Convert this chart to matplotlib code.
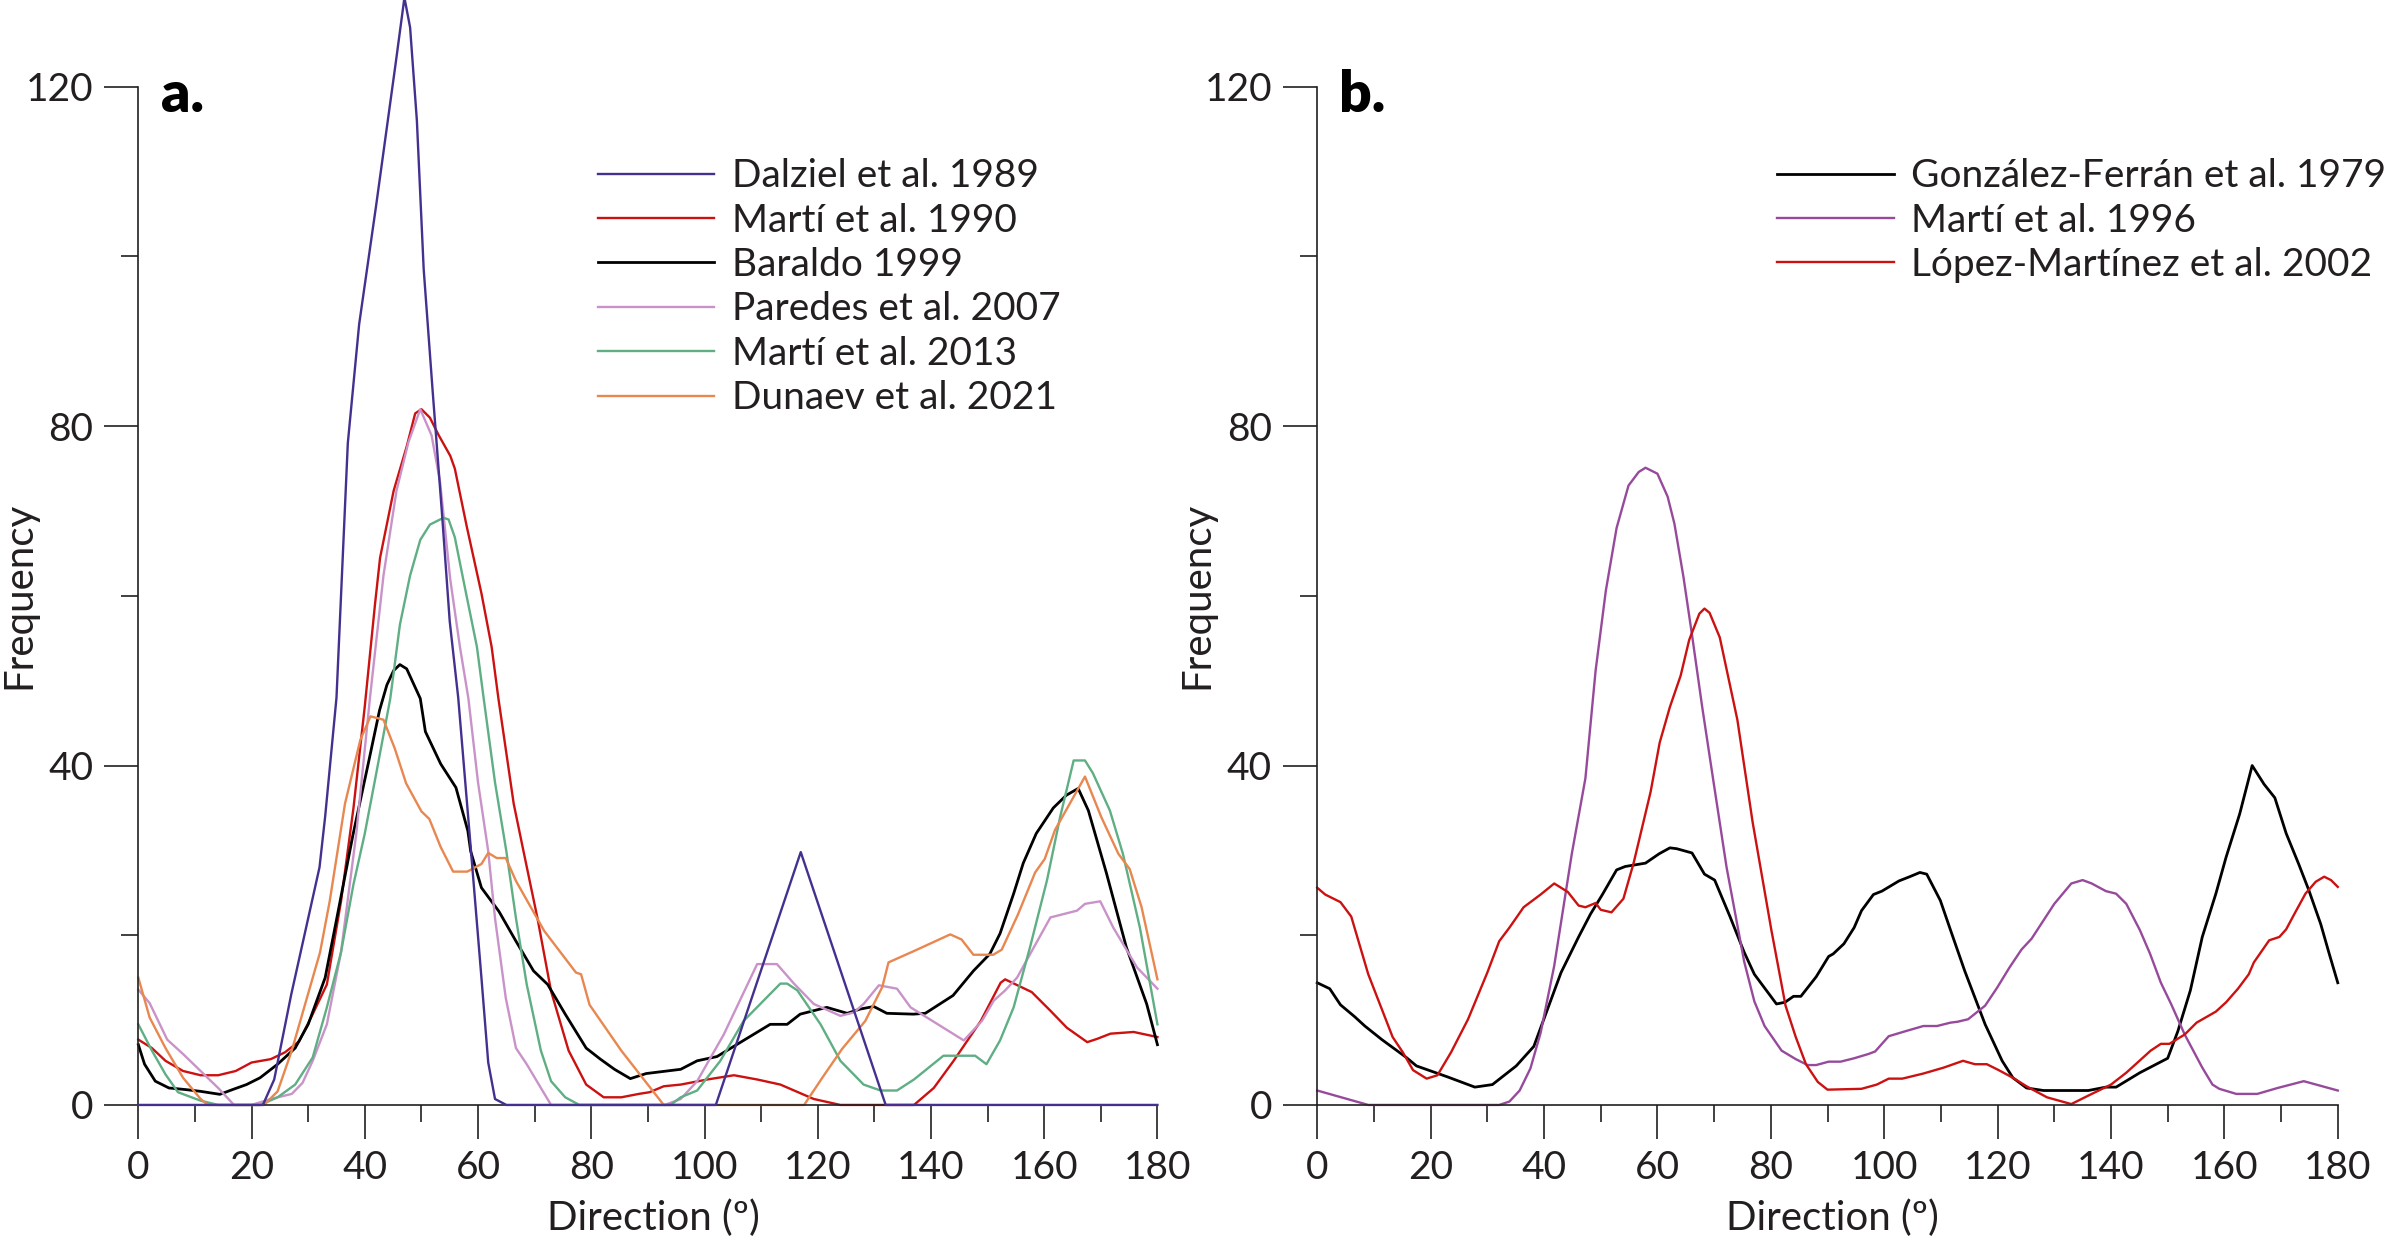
import matplotlib
matplotlib.use("Agg")
import matplotlib.pyplot as plt
from matplotlib.ticker import MultipleLocator

plt.rcParams['font.family'] = ['Lato', 'DejaVu Sans']

# ---- panel a data (direction in degrees, frequency) ----
dalziel_x = [0, 22, 24, 27, 30, 32, 33, 35, 37, 39, 42, 45.5, 47, 48, 49.2, 50.4, 52, 53.6, 55, 56.5,
             58.5, 60.6, 61.8, 63, 65, 102, 117, 132, 180]
dalziel_y = [0, 0, 3, 13, 22, 28, 34, 48, 78, 92, 106, 123, 130.5, 127, 116, 98.5, 84, 70, 57, 48,
             32, 15, 5, 0.7, 0, 0, 29.8, 0, 0]

marti90_x = [0, 2.4, 4.8, 7.9, 11, 14.1, 17.2, 20, 23.4, 25.9, 28.4, 30.8, 33.3, 35.8, 38, 40, 41.8,
             42.7, 45.1, 47.4, 48.9, 50, 51.5, 53, 55.1, 55.9, 58, 60.6, 62.4, 63.6, 66.3, 68, 70.5,
             72.9, 76, 79.1, 82.2, 85.3, 88.4, 90.3, 92.8, 95.8, 100.5, 105.2, 109.3, 113.4, 119.3,
             124, 137, 140.5, 144, 148.8, 152.3, 153.1, 157.8, 161.1, 164, 167.6, 169.4, 171.7,
             175.8, 180]
marti90_y = [7.7, 6.7, 5.2, 4.0, 3.5, 3.5, 4.0, 5.0, 5.4, 6.2, 7.5, 10.7, 14.2, 24, 35, 47, 59,
             64.5, 72.4, 77.6, 81.5, 82, 81, 79, 76.5, 75, 68.2, 60.3, 54, 47.9, 35.5, 30, 22,
             13.4, 6.4, 2.4, 0.9, 0.9, 1.3, 1.5, 2.2, 2.4, 3.0, 3.5, 3.0, 2.4, 0.7,
             0, 0, 2.0, 5.2, 9.9, 14.4, 14.8, 13.3, 11.1, 9.1, 7.4, 7.8, 8.4,
             8.6, 8.0]

baraldo_x = [0, 1.1, 3, 5.4, 8.5, 11, 14.4, 16.6, 19.1, 21.5, 24.6, 27.7, 30, 33, 35.2, 37.9, 40.6,
             42.6, 43.9, 45.1, 46.2, 47.4, 49.8, 50.7, 53.4, 56.1, 58.2, 58.7, 60.6, 63.7, 66.7,
             69.8, 72.3, 75.4, 79.1, 81.6, 84.1, 86.9, 89.7, 95.8, 98.7, 102.2, 106.4, 111.6, 114.6,
             116.9, 121.6, 125.2, 127.5, 129.9, 132.2, 136.9, 139, 143.9, 147.5, 150.4, 152.2, 154.6,
             156.3, 158.6, 161.6, 163.9, 166, 167.8, 171, 174.5, 178.1, 180]
baraldo_y = [7.1, 4.8, 2.8, 2.0, 1.8, 1.6, 1.25, 1.8, 2.4, 3.2, 4.8, 6.7, 9.5, 15, 22.5, 31.8, 40.2,
             46.5, 49.5, 51.2, 51.9, 51.4, 47.9, 44, 40.2, 37.4, 32.3, 29.9, 25.6, 22.8, 19.3,
             15.8, 14.2, 10.7, 6.7, 5.4, 4.2, 3.1, 3.7, 4.2, 5.2, 5.7, 7.4, 9.5, 9.5,
             10.7, 11.5, 10.8, 11.3, 11.6, 10.8, 10.7, 10.8, 12.9, 15.8, 17.8, 20.2, 24.9,
             28.5, 32, 35, 36.5, 37.3, 34.7, 27.3, 18.6, 11.9, 7.1]

paredes_x = [0, 2, 5.1, 7.9, 11, 14.1, 16.9, 20, 23.4, 27.1, 29, 30.8, 33.3, 35.8, 38.5, 40.9, 43.3,
             45.6, 47.7, 49.8, 51.8, 53.3, 55.1, 56.8, 58.3, 60, 61.8, 63, 64.9, 66.7, 68.6, 71.1,
             72.9, 93, 95.8, 98.7, 103.4, 109.3, 112.8, 115.8, 119.3, 124, 126.4, 128.1, 130.8, 134,
             136.4, 145.8, 149, 151.1, 153.1, 155.2, 161.1, 165.8, 167.2, 169.9, 172.2, 176.4, 180]
paredes_y = [13.6, 12, 7.7, 6, 4, 2, 0, 0, 0.7, 1.3, 2.6, 5.2, 9.5, 18, 32, 47.9, 62.4,
             72.4, 78.1, 82, 78.9, 73.4, 61.9, 54, 47.9, 38, 29.9, 22, 12.6, 6.7, 4.8, 2,
             0, 0, 0.7, 2.8, 8.3, 16.6, 16.6, 14.3, 11.9, 10.5, 10.9, 11.9, 14.1, 13.7,
             11.5, 7.6, 9.9, 12.3, 13.5, 15, 22.1, 22.9, 23.7, 24, 20.9, 16.2, 13.7]

marti13_x = [0, 2.4, 4.8, 7, 11, 14.1, 21.5, 24.6, 27.7, 30.8, 33.3, 35.8, 38, 40, 42, 44.5, 46.2,
             48, 49.8, 51.5, 53.9, 54.8, 55.9, 57.4, 59.8, 61, 63, 65, 66.7, 68.6, 71.1, 72.9, 75.4,
             77.9, 94, 95.8, 98.7, 102.8, 106.9, 113.4, 114.6, 116.4, 120.5, 124, 128.1, 131.1, 134,
             137, 142.2, 147.8, 149.8, 152.2, 154.6, 157.5, 160.5, 162.8, 165.2, 167.2, 168.6,
             171.6, 173.9, 176.9, 180]
marti13_y = [9.5, 6.4, 3.6, 1.5, 0.5, 0, 0, 0.9, 2.4, 5.6, 11.5, 18, 26, 32, 39, 47.9, 56.6,
             62.4, 66.6, 68.4, 69.2, 69, 66.9, 61.9, 54, 47.9, 38, 29.9, 22, 14.2, 6.4, 2.8, 0.9,
             0, 0, 0.9, 1.7, 5.2, 9.9, 14.3, 14.3, 13.5, 9.5, 5.2, 2.4, 1.7, 1.7,
             3.0, 5.8, 5.8, 4.8, 7.6, 11.5, 18.6, 26.5, 33.9, 40.6, 40.6, 39.1,
             34.7, 29.6, 20.9, 9.5]

dunaev_x = [0, 2, 4.8, 7.9, 11, 12.3, 22.2, 24.6, 27.1, 29.6, 32.1, 33.8, 36.5, 39.2, 41, 43.3, 45.3,
            47.3, 50, 51.4, 53.4, 55.6, 58.1, 60.6, 61.8, 63.3, 64.9, 66.7, 71.7, 77.3, 78.2, 79.7,
            85.3, 92.8, 117.6, 120.8, 124.3, 128.4, 131.4, 132.5, 137.2, 143.4, 145.4, 147.5, 151,
            152.5, 155.4, 158.4, 160.1, 161.9, 167.2, 170.1, 173.1, 175.1, 177.2, 180]
dunaev_y = [15, 10.3, 6.7, 3.2, 0.7, 0, 0, 1.6, 6.4, 12.2, 18, 24, 35.5, 43, 45.8, 45.4, 42,
            37.9, 34.6, 33.7, 30.4, 27.5, 27.5, 28.4, 29.7, 29.1, 29.1, 26.4, 20.5, 15.6, 15.4, 11.8,
            6.4, 0, 0, 3.2, 6.6, 9.9, 13.9, 16.8, 18.2, 20.1, 19.5, 17.7, 17.7,
            18.3, 22.5, 27.4, 29, 32.4, 38.7, 33.9, 29.6, 27.8, 23.3, 14.8]

# ---- panel b data ----
gonzalez_x = [0, 2.2, 4.1, 6.6, 8.4, 11.4, 15.7, 17.5, 23, 27.8, 30.9, 35.1, 38.2, 43, 46.1, 48.2,
              50.3, 52.8, 54.3, 57.9, 60.3, 62.2, 63.4, 66.1, 68.3, 70.1, 72.8, 75.3, 77.1, 81, 82.5,
              84, 85.3, 88, 90.2, 91, 92.9, 94.7, 96, 98.1, 99.6, 102.6, 104.5, 106.3, 107.5, 109.9,
              111.7, 114.2, 117.8, 120.8, 122.7, 125.1, 128.1, 136, 139.1, 140.9, 145.1, 150, 151.8,
              154, 156.1, 158.5, 160.3, 162.7, 164.9, 167, 168.9, 170.9, 173.1, 174.9, 177, 178.5, 180]
gonzalez_y = [14.4, 13.7, 11.8, 10.4, 9.3, 7.7, 5.6, 4.6, 3.3, 2.1, 2.4, 4.6, 6.9, 15.6, 19.8, 22.5,
              24.8, 27.7, 28.1, 28.5, 29.6, 30.3, 30.2, 29.7, 27.2, 26.5, 22.2, 18, 15.4, 11.9, 12.1,
              12.8, 12.8, 15.1, 17.5, 17.8, 19, 20.9, 22.9, 24.8, 25.2, 26.4, 26.9, 27.4, 27.2, 24.1,
              20.6, 15.8, 9.5, 5.2, 3.2, 2, 1.7, 1.7, 2.1, 2.1, 3.8, 5.5, 8.7,
              13.5, 19.8, 24.9, 29.2, 34.3, 40, 37.8, 36.2, 32, 28.4, 25.3, 21.3, 17.8, 14.4]

marti96_x = [0, 9, 32.1, 33.9, 35.7, 37.6, 39.4, 41.8, 44.9, 47.3, 49.1, 50.9, 52.8, 54.9, 56.7, 57.9,
             60, 61.8, 63, 64.6, 66.1, 67.9, 69.8, 72.2, 75.3, 77.1, 78.9, 81.9, 84.4, 86.5, 88, 90.2,
             92.3, 94.7, 97.2, 98.4, 100.8, 103.8, 106.9, 109.3, 111.7, 112.9, 114.8, 117.8, 119.9,
             122.1, 124.2, 126, 130, 131.5, 133, 135, 136.6, 139.1, 140.9, 142.7, 145.1, 146.9, 148.8,
             150.6, 153, 156.1, 157.9, 159.1, 162.1, 165.8, 169.4, 174, 180]
marti96_y = [1.7, 0, 0, 0.4, 1.7, 4.3, 8.5, 16.4, 29.6, 38.5, 51.2, 60.6, 68, 73, 74.6, 75.1,
             74.4, 71.7, 68.5, 62.2, 55.4, 46.9, 38.5, 28, 16.9, 12.2, 9.3, 6.4, 5.4, 4.7, 4.7, 5.1,
             5.1, 5.5, 6, 6.3, 8.1, 8.7, 9.3, 9.3, 9.7, 9.8, 10.1, 11.7, 13.8,
             16.2, 18.3, 19.6, 23.7, 24.9, 26.1, 26.5, 26.1, 25.2, 24.9, 23.7, 20.6, 17.8, 14.4,
             11.9, 8.3, 4.4, 2.4, 1.9, 1.3, 1.3, 2, 2.8, 1.7]

lopez_x = [0, 1.4, 4.1, 6, 9, 13.3, 15.1, 16.9, 19.3, 21.2, 23.6, 26.6, 30, 32.1, 33.9, 36.4, 39.4,
           41.8, 44.2, 46.1, 47.3, 49.1, 50, 51.9, 54, 55.8, 58.8, 60.4, 62.2, 64.1, 65.6, 67.4,
           68.3, 69.2, 71, 74.1, 76.8, 80.1, 82.6, 84.4, 86.2, 88.3, 90, 96, 98.7, 100.8, 103.2,
           106.9, 110.5, 113.9, 116, 118.1, 120.2, 122.7, 125.1, 128.7, 133, 136, 140, 142.7, 147,
           148.8, 150.3, 153, 155.1, 158.5, 160.3, 162.4, 164.3, 165.2, 167.9, 169.7, 170.9, 172.5,
           174.3, 176.1, 177.6, 178.8, 180]
lopez_y = [25.6, 24.8, 23.9, 22.2, 15.4, 8, 6.2, 4.1, 3.1, 3.5, 6.2, 10.1, 15.6, 19.3, 20.9, 23.3, 24.8,
           26.1, 25.1, 23.5, 23.3, 23.8, 23, 22.7, 24.3, 28.5, 36.9, 42.7, 46.9, 50.6, 54.8, 57.9,
           58.5, 58, 55.1, 45.4, 33.3, 20.6, 11.7, 8, 4.8, 2.7, 1.8, 1.9, 2.4, 3.1, 3.1,
           3.7, 4.4, 5.2, 4.8, 4.8, 4.1, 3.2, 2.2, 0.9, 0.1, 1.1, 2.4, 3.8, 6.4,
           7.2, 7.2, 8.3, 9.7, 11, 12.1, 13.7, 15.4, 16.8, 19.4, 19.8, 20.7, 22.7,
           24.9, 26.3, 26.9, 26.5, 25.7]

axis_col = '#231f20'
lw = 1.7


def style_axis(ax):
    ax.set_xlim(0, 180)
    ax.set_ylim(0, 120)
    ax.spines['top'].set_visible(False)
    ax.spines['right'].set_visible(False)
    for s in ('left', 'bottom'):
        ax.spines[s].set_color(axis_col)
        ax.spines[s].set_linewidth(1.2)
    ax.xaxis.set_major_locator(MultipleLocator(20))
    ax.xaxis.set_minor_locator(MultipleLocator(10))
    ax.yaxis.set_major_locator(MultipleLocator(40))
    ax.yaxis.set_minor_locator(MultipleLocator(20))
    ax.tick_params(which='major', length=24.5, width=1.2, color=axis_col,
                   labelsize=28, labelcolor=axis_col)
    ax.tick_params(which='minor', length=12.2, width=1.2, color=axis_col)
    ax.tick_params(axis='x', which='major', pad=8)
    ax.tick_params(axis='y', which='major', pad=8)
    ax.set_xlabel('Direction (º)', fontsize=29, color=axis_col, va='center')
    ax.set_ylabel('Frequency', fontsize=29, color=axis_col, va='center')
    ax.xaxis.set_label_coords(0.505, -0.111)
    ax.yaxis.set_label_coords(-0.1175, 0.5)


fig = plt.figure(figsize=(23.85, 12.45), dpi=100)
ax_a = fig.add_axes([0.0580, 0.1125, 0.4273, 0.8178])
ax_b = fig.add_axes([0.5523, 0.1125, 0.4279, 0.8178])

ax_a.plot(dalziel_x, dalziel_y, color='#44308f', lw=lw, label='Dalziel et al. 1989', clip_on=False, zorder=3)
ax_a.plot(marti90_x, marti90_y, color='#cc1111', lw=lw, label='Martí et al. 1990', clip_on=False)
ax_a.plot(baraldo_x, baraldo_y, color='black', lw=lw + 0.3, label='Baraldo 1999', clip_on=False)
ax_a.plot(paredes_x, paredes_y, color='#c993c9', lw=lw, label='Paredes et al. 2007', clip_on=False)
ax_a.plot(marti13_x, marti13_y, color='#5fae84', lw=lw, label='Martí et al. 2013', clip_on=False)
ax_a.plot(dunaev_x, dunaev_y, color='#e8874f', lw=lw, label='Dunaev et al. 2021', clip_on=False)

ax_b.plot(gonzalez_x, gonzalez_y, color='black', lw=lw + 0.3, label='González-Ferrán et al. 1979', clip_on=False)
ax_b.plot(marti96_x, marti96_y, color='#974a9b', lw=lw, label='Martí et al. 1996', clip_on=False)
ax_b.plot(lopez_x, lopez_y, color='#cc1111', lw=lw, label='López-Martínez et al. 2002', clip_on=False)

for ax in (ax_a, ax_b):
    style_axis(ax)

leg_kw = dict(loc='upper left', bbox_transform=fig.transFigure, frameon=False,
              borderpad=0, borderaxespad=0, handlelength=3.0, handletextpad=0.45,
              labelspacing=0.217, fontsize=28)
leg_a = ax_a.legend(bbox_to_anchor=(0.2506, 0.873), **leg_kw)
leg_b = ax_b.legend(bbox_to_anchor=(0.7451, 0.873), **leg_kw)
for leg in (leg_a, leg_b):
    for t in leg.get_texts():
        t.set_color(axis_col)

fig.text(0.0675, 0.9103, 'a.', fontsize=41, fontweight='heavy', va='baseline')
fig.text(0.5615, 0.9103, 'b.', fontsize=41, fontweight='heavy', va='baseline')

fig.savefig('out.png', dpi=100)
